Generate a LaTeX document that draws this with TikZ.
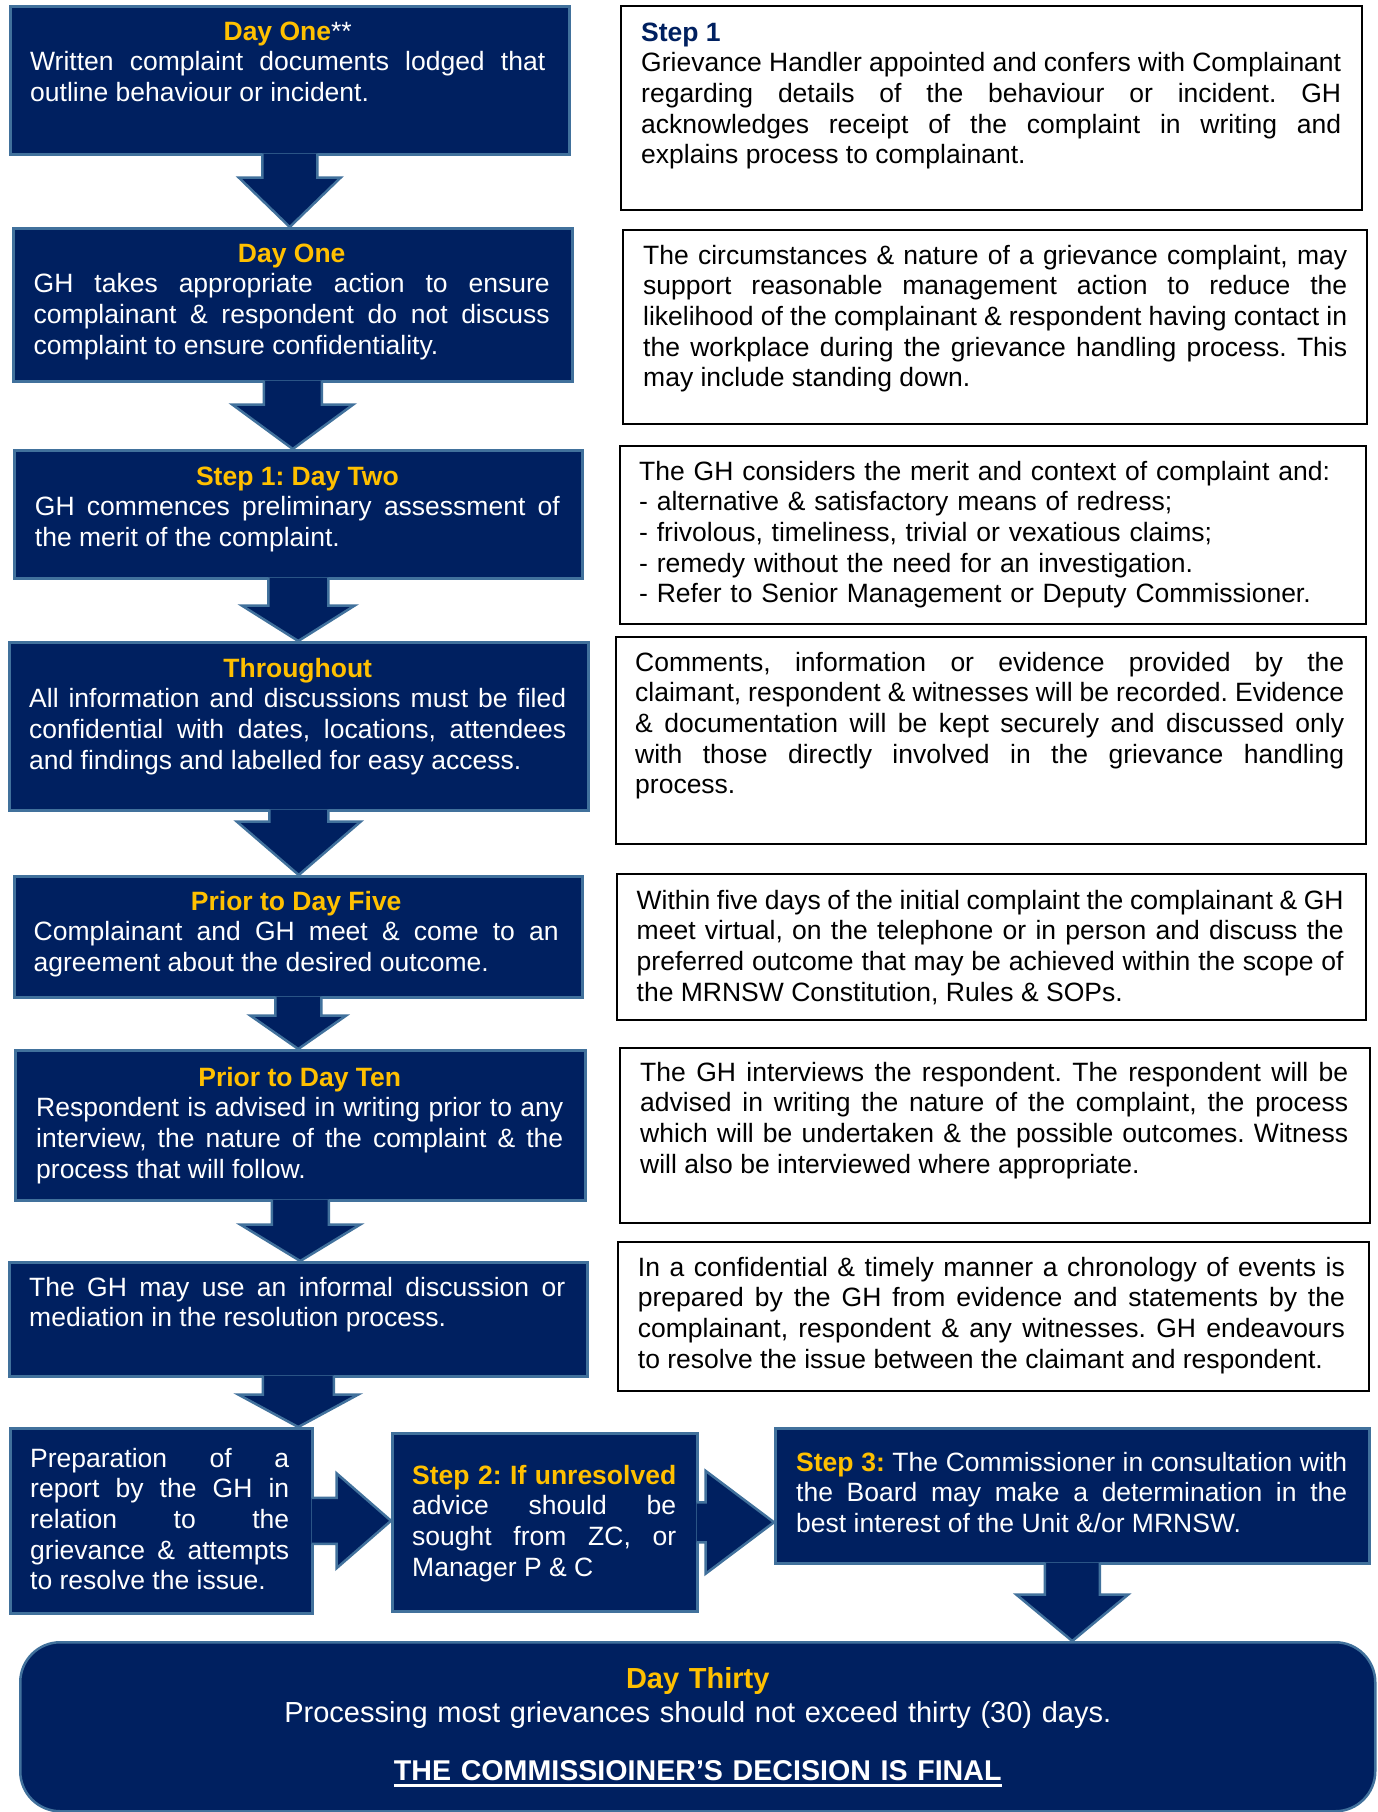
\documentclass[tikz,border=0pt]{standalone}
\usepackage{fontspec}
\setmainfont{Liberation Sans}
\usetikzlibrary{calc, positioning}
\definecolor{navy}{HTML}{002060}
\definecolor{navyedge}{HTML}{41719C}
\definecolor{dayyellow}{HTML}{FFC000}
\frenchspacing
\newcommand{\bodyfont}{\fontsize{26.5}{30.7}\selectfont\tolerance=10000\hbadness=10000\relax}
\newcommand{\daytitle}[1]{\textbf{\textcolor{dayyellow}{#1}}}
\newcommand{\ulinetext}[1]{\leavevmode\setbox0\hbox{#1}\rlap{\rule[-6.5pt]{\wd0}{2.5pt}}\box0}
\tikzset{
  % Kaesten
  navybox/.style={draw=navyedge, line width=2.5pt, fill=navy, inner sep=0pt, anchor=north west},
  notebox/.style={draw=black, line width=2pt, fill=white, inner sep=0pt, anchor=north west},
  % Texte
  navytext/.style={text=white, inner sep=0pt, anchor=base west, align=justify, font=\bodyfont},
  notetext/.style={text=black, inner sep=0pt, anchor=base west, align=justify, font=\bodyfont, text width=708pt},
  % Blockpfeile
  blockarrow/.style={fill=navy, draw=navyedge, line width=2.5pt, line join=miter}
}
% Blockpfeil: von, nach, halbe Schaftbreite, halbe Spitzenbreite, Schaftlaenge
\newcommand{\downblock}[5]{%
  \filldraw[blockarrow] ($(#1.south)+(-#3,-2)$) -- ($(#1.south)+(-#3,#5)$)
    -- ($(#1.south)+(-#4,#5)$) -- (#1.south |- #2.north)
    -- ($(#1.south)+(#4,#5)$) -- ($(#1.south)+(#3,#5)$) -- ($(#1.south)+(#3,-2)$);}
\newcommand{\rightblock}[5]{%
  \filldraw[blockarrow] ($(#1.east)+(-2,-#3)$) -- ($(#1.east)+(#5,-#3)$)
    -- ($(#1.east)+(#5,-#4)$) -- (#2.west |- #1.east)
    -- ($(#1.east)+(#5,#4)$) -- ($(#1.east)+(#5,#3)$) -- ($(#1.east)+(-2,#3)$);}

\begin{document}
\begin{tikzpicture}[x=1pt, y=-1pt]
  \fill[white] (0,0) rectangle (1377,1812);
  \useasboundingbox (0,0) rectangle (1377,1812);

  % linke Spalte
  \node[navybox, minimum width=559pt, minimum height=148pt] (d1) at (9,5) {};
  \node[navybox, minimum width=559pt, minimum height=153pt] (d2) at (12,227) {};
  \node[navybox, minimum width=568pt, minimum height=128pt] (d3) at (13,449) {};
  \node[navybox, minimum width=579pt, minimum height=168pt] (d4) at (8,641) {};
  \node[navybox, minimum width=568pt, minimum height=121pt] (d5) at (13,875) {};
  \node[navybox, minimum width=570pt, minimum height=150pt] (d6) at (14,1049) {};
  \node[navybox, minimum width=578pt, minimum height=114pt] (d7) at (8,1261) {};
  \node[navybox, minimum width=302pt, minimum height=185pt] (d8) at (9,1427) {};
  \node[navybox, minimum width=305pt, minimum height=178pt] (d9) at (391,1432) {};
  \node[navybox, minimum width=594pt, minimum height=135pt] (d10) at (774,1427) {};
  \node[navybox, rounded corners=40pt, minimum width=1355pt, minimum height=169pt] (d30) at (19,1641) {};

  \node[navytext, text width=515pt] (d1txt) at ($(d1.north west)+(21,35)$)
    {\makebox[\linewidth]{\daytitle{Day One}**}\par
     Written complaint documents lodged that\linebreak outline behaviour or incident.};
  \node[navytext, text width=516pt] (d2txt) at ($(d2.north west)+(21.5,35)$)
    {\makebox[\linewidth]{\daytitle{Day One}}\par
     GH takes appropriate action to ensure\linebreak complainant \& respondent do not discuss\linebreak
     complaint to ensure confidentiality.};
  \node[navytext, text width=525pt] (d3txt) at ($(d3.north west)+(21.7,36)$)
    {\makebox[\linewidth]{\daytitle{Step 1: Day Two}}\par
     GH commences preliminary assessment of\linebreak the merit of the complaint.};
  \node[navytext, text width=537pt] (d4txt) at ($(d4.north west)+(21,36)$)
    {\makebox[\linewidth]{\daytitle{Throughout}}\par
     All information and discussions must be filed\linebreak confidential with dates, locations, attendees\linebreak
     and findings and labelled for easy access.};
  \node[navytext, text width=525pt] (d5txt) at ($(d5.north west)+(20.5,35)$)
    {\makebox[\linewidth]{\daytitle{Prior to Day Five}}\par
     Complainant and GH meet \& come to an\linebreak agreement about the desired outcome.};
  \node[navytext, text width=527pt] (d6txt) at ($(d6.north west)+(22,37)$)
    {\makebox[\linewidth]{\daytitle{Prior to Day Ten}}\par
     Respondent is advised in writing prior to any\linebreak interview, the nature of the complaint \& the\linebreak
     process that will follow.};
  \node[navytext, text width=536pt] (d7txt) at ($(d7.north west)+(21,35)$)
    {The GH may use an informal discussion or\linebreak mediation in the resolution process.};
  \node[navytext, text width=259pt] (d8txt) at ($(d8.north west)+(21,40)$)
    {Preparation of a\linebreak report by the GH in\linebreak relation to the\linebreak
     grievance \& attempts\linebreak to resolve the issue.};
  \node[navytext, text width=264pt] (d9txt) at ($(d9.north west)+(21,52)$)
    {\daytitle{Step 2: If unresolved}\linebreak advice should be\linebreak sought from ZC, or\linebreak
     Manager P \& C};
  \node[navytext, text width=551pt] (d10txt) at ($(d10.north west)+(22,44)$)
    {\daytitle{Step 3:} The Commissioner in consultation with\linebreak the Board may make a determination in the\linebreak
     best interest of the Unit \&/or MRNSW.};
  \node[text=white, inner sep=0pt, anchor=base, align=center, text width=1300pt,
        font=\fontsize{29}{34}\selectfont] (d30txt) at ($(d30.north)+(0,47)$)
    {\daytitle{Day Thirty}\\ Processing most grievances should not exceed thirty (30) days.\\[24pt]
     {\fontsize{28.6}{34}\selectfont\bfseries\ulinetext{THE COMMISSIOINER’S DECISION IS FINAL}}};

  % rechte Spalte
  \node[notebox, minimum width=741pt, minimum height=204pt] (n1) at (620,5) {};
  \node[notebox, minimum width=744pt, minimum height=194pt] (n2) at (622,229) {};
  \node[notebox, minimum width=746pt, minimum height=178pt] (n3) at (619,445) {};
  \node[notebox, minimum width=750pt, minimum height=207pt] (n4) at (615,636) {};
  \node[notebox, minimum width=749pt, minimum height=146pt] (n5) at (616,873) {};
  \node[notebox, minimum width=750pt, minimum height=175pt] (n6) at (619,1047) {};
  \node[notebox, minimum width=751pt, minimum height=149pt] (n7) at (617,1241) {};

  \node[notetext, text width=700pt] (n1txt) at ($(n1.north west)+(21,36)$)
    {\textbf{\textcolor{navy}{Step 1}}\par
     Grievance Handler appointed and confers with Complainant\linebreak regarding details of the behaviour or incident. GH\linebreak
     acknowledges receipt of the complaint in writing and\linebreak explains process to complainant.};
  \node[notetext, text width=704pt] (n2txt) at ($(n2.north west)+(21,35)$)
    {The circumstances \& nature of a grievance complaint, may\linebreak support reasonable management action to reduce the\linebreak
     likelihood of the complainant \& respondent having contact in\linebreak the workplace during the grievance handling process. This\linebreak
     may include standing down.};
  \node[notetext, align=left] (n3txt) at ($(n3.north west)+(20,35)$)
    {The GH considers the merit and context of complaint and:\\
     - alternative \& satisfactory means of redress;\\
     - frivolous, timeliness, trivial or vexatious claims;\\
     - remedy without the need for an investigation.\\
     - Refer to Senior Management or Deputy Commissioner.};
  \node[notetext, text width=709pt] (n4txt) at ($(n4.north west)+(20,35)$)
    {Comments, information or evidence provided by the\linebreak claimant, respondent \& witnesses will be recorded. Evidence\linebreak
     \& documentation will be kept securely and discussed only\linebreak with those directly involved in the grievance handling\linebreak
     process.};
  \node[notetext, text width=707pt] (n5txt) at ($(n5.north west)+(20.5,36)$)
    {Within five days of the initial complaint the complainant \& GH\linebreak meet virtual, on the telephone or in person and discuss the\linebreak
     preferred outcome that may be achieved within the scope of\linebreak the MRNSW Constitution, Rules \& SOPs.};
  \node[notetext] (n6txt) at ($(n6.north west)+(21,34)$)
    {The GH interviews the respondent. The respondent will be\linebreak advised in writing the nature of the complaint, the process\linebreak
     which will be undertaken \& the possible outcomes. Witness\linebreak will also be interviewed where appropriate.};
  \node[notetext, text width=707pt] (n7txt) at ($(n7.north west)+(20.7,35)$)
    {In a confidential \& timely manner a chronology of events is\linebreak prepared by the GH from evidence and statements by the\linebreak
     complainant, respondent \& any witnesses. GH endeavours\linebreak to resolve the issue between the claimant and respondent.};

  % Pfeile
  \downblock{d1}{d2}{27.5}{51}{22}
  \downblock{d2}{d3}{29}{60.5}{22}
  \downblock{d3}{d4}{30}{56.5}{26}
  \downblock{d4}{d5}{29.5}{62}{10}
  \downblock{d5}{d6}{23}{48}{17}
  \downblock{d6}{d7}{28.5}{60}{23}
  \downblock{d7}{d8}{35.5}{60}{17}
  \rightblock{d8}{d9}{23}{47.5}{23}
  \rightblock{d9}{d10}{20}{51.5}{7}
  \downblock{d10}{d30}{27.5}{56}{30}
\end{tikzpicture}
\end{document}
